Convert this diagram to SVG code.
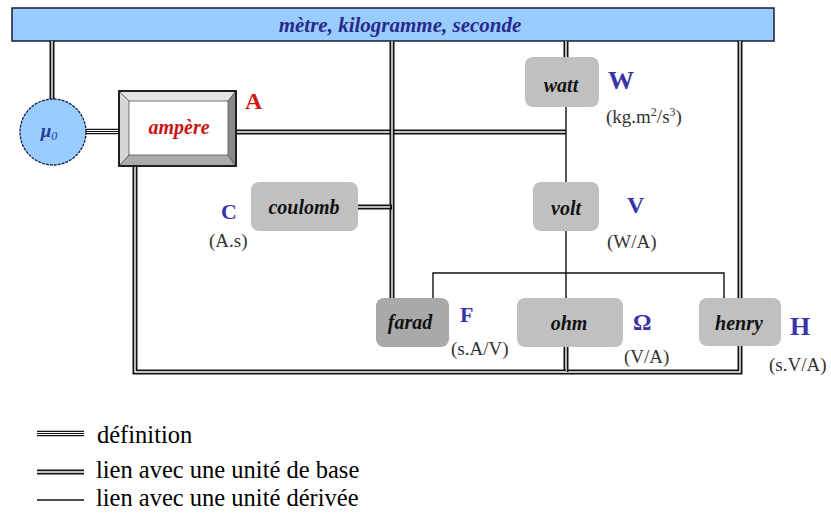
<svg xmlns="http://www.w3.org/2000/svg" width="831" height="516" viewBox="0 0 831 516">
<defs>
<style>
text{font-family:'Liberation Serif','DejaVu Serif',serif}
.o2{fill:none;stroke:#111;stroke-width:5}
.i2{fill:none;stroke:#fff;stroke-width:1.4}
.o3{fill:none;stroke:#111;stroke-width:5.4}
.m3{fill:none;stroke:#fff;stroke-width:3.2}
.c3{fill:none;stroke:#111;stroke-width:1.2}
.thin{fill:none;stroke:#111;stroke-width:1.4}
.node{fill:#c0c0c0;stroke:none}
.lbl{font-style:italic;font-weight:bold;font-size:20px;fill:#111;text-anchor:middle}
.sym{font-weight:bold;font-size:24px;fill:#3a32a8}
.f{font-size:19px;fill:#333}
.leg{font-size:24.5px;fill:#000}
</style>
</defs>
<rect width="831" height="516" fill="#fff"/>
<g id="bar">
<rect x="12" y="8" width="762" height="33" fill="#99ccff" stroke="#1a1a3a" stroke-width="1.5"/>
<text x="400" y="32" font-style="italic" font-weight="bold" font-size="21" fill="#2a2a8a" text-anchor="middle">mètre, kilogramme, seconde</text>
</g>
<g id="connectors">
<path class="o2" d="M52,41V99"/><path class="i2" d="M52,41V99"/>
<path class="o3" d="M85,131.5H120"/><path class="m3" d="M85,131.5H120"/><path class="c3" d="M85,131.5H120"/>
<path class="o2" d="M236,132H566"/><path class="i2" d="M236,132H566"/>
<path class="o2" d="M392,41V298"/><path class="i2" d="M392,41V298"/>
<path class="o2" d="M358,207H392"/><path class="i2" d="M358,207H390"/>
<path class="o2" d="M566,41V57"/><path class="i2" d="M566,41V57"/>
<path class="thin" d="M566,107V298"/>
<path class="thin" d="M433,298V273H724V298"/>
<path class="o2" d="M740,41V372H566"/><path class="i2" d="M740,41V372H566"/>
<path class="o2" d="M566,347V372"/><path class="i2" d="M566,347V372"/>
<path class="o2" d="M135,166V372H566"/><path class="i2" d="M135,166V372H566"/>
</g>
<g id="mu0">
<circle cx="53" cy="132" r="33" fill="#99ccff" stroke="#1a1a4a" stroke-width="1.3" stroke-dasharray="3 1"/>
<text x="49" y="137" font-style="italic" font-weight="bold" font-size="19" fill="#2a3a9a" text-anchor="middle">μ<tspan font-size="12" dy="3" font-weight="normal">0</tspan></text>
</g>
<g id="ampere">
<rect x="119" y="91" width="117" height="75" fill="#fff" stroke="#111" stroke-width="1.5"/>
<polygon points="120,92 235,92 228,101 129,101" fill="#e4e4e4"/>
<polygon points="120,92 129,101 129,155 120,165" fill="#d6d6d6"/>
<polygon points="235,92 235,165 228,155 228,101" fill="#8a8a8a"/>
<polygon points="120,165 129,155 228,155 235,165" fill="#ababab"/>
<rect x="129" y="101" width="99" height="54" fill="#fff" stroke="#555" stroke-width="0.8"/>
<path d="M120,92L129,101M235,92L228,101M120,165L129,155M235,165L228,155" stroke="#444" stroke-width="0.8"/>
<rect x="119" y="91" width="117" height="75" fill="none" stroke="#111" stroke-width="1.5"/>
<text class="lbl" x="179" y="134" style="fill:#c81414">ampère</text>
<text x="245" y="109" font-weight="bold" font-size="24" fill="#d01818">A</text>
</g>
<g id="coulomb">
<rect class="node" x="251" y="182" width="107" height="49" rx="8"/>
<text class="lbl" x="304" y="214">coulomb</text>
<text class="sym" x="221" y="219" style="font-size:22px">C</text>
<text class="f" x="209" y="247">(A.s)</text>
</g>
<g id="watt">
<rect class="node" x="525" y="57" width="74" height="50" rx="8"/>
<text class="lbl" x="561" y="92">watt</text>
<text class="sym" x="608" y="89" style="font-size:26px">W</text>
<text class="f" x="606" y="123">(kg.m<tspan font-size="12" dy="-7">2</tspan><tspan dy="7">/s</tspan><tspan font-size="12" dy="-7">3</tspan><tspan dy="7">)</tspan></text>
</g>
<g id="volt">
<rect class="node" x="533" y="182" width="66" height="49" rx="8"/>
<text class="lbl" x="566" y="215">volt</text>
<text class="sym" x="627" y="213">V</text>
<text class="f" x="607" y="248">(W/A)</text>
</g>
<g id="farad">
<rect x="376" y="298" width="73" height="49" rx="8" fill="#a9a9a9"/>
<text class="lbl" x="410" y="329">farad</text>
<text class="sym" x="460" y="322" style="font-size:22px">F</text>
<text class="f" x="451" y="355">(s.A/V)</text>
</g>
<g id="ohm">
<rect class="node" x="517" y="298" width="106" height="49" rx="8"/>
<text class="lbl" x="569" y="330">ohm</text>
<text class="sym" x="633" y="330" style="font-size:23px">Ω</text>
<text class="f" x="624" y="363">(V/A)</text>
</g>
<g id="henry">
<rect class="node" x="699" y="298" width="82" height="48" rx="8"/>
<text class="lbl" x="739" y="330">henry</text>
<text class="sym" x="790" y="335" style="font-size:26px">H</text>
<text class="f" x="769" y="371">(s.V/A)</text>
</g>
<g id="legend">
<path class="o3" d="M37,433.5H84"/><path class="m3" d="M37,433.5H84"/><path class="c3" d="M37,433.5H84"/>
<text class="leg" x="97" y="443">définition</text>
<path class="o2" d="M37,472H84"/><path class="i2" d="M37,472H84"/>
<text class="leg" x="96" y="478">lien avec une unité de base</text>
<path class="thin" d="M37,500H84"/>
<text class="leg" x="96" y="506">lien avec une unité dérivée</text>
</g>
</svg>
